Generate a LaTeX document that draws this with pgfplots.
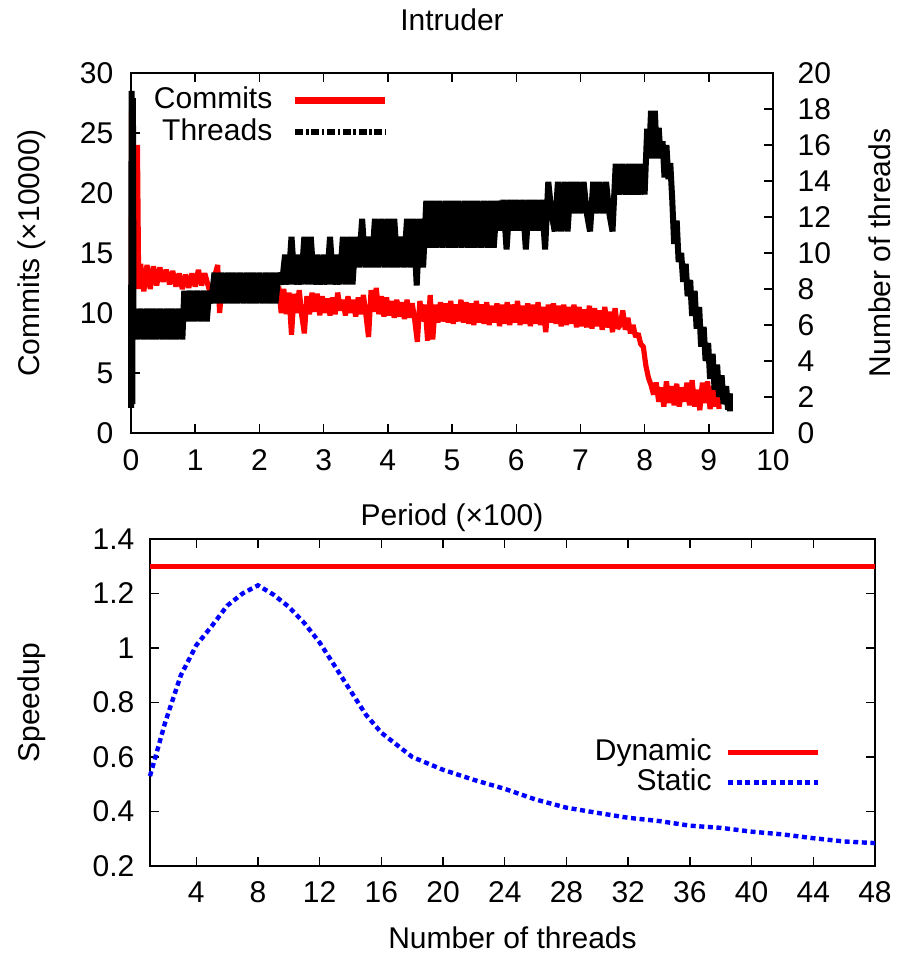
\documentclass[border=0pt]{standalone}
\usepackage{fontspec}
\setmainfont{Liberation Sans}
\usepackage{pgfplots}
\pgfplotsset{compat=1.18}
\begin{document}
\begin{tikzpicture}[font=\fontsize{15}{18}\selectfont]
\useasboundingbox (0,0) rectangle (449pt,477pt);
\pgfplotsset{
  every axis/.append style={
    scale only axis,
    axis line style={line width=0.7pt},
    every tick/.style={line width=0.7pt, black},
    major tick length=4.5pt,
    /pgf/number format/assume math mode=true,
    tick label style={font=\fontsize{15}{18}\selectfont},
    label style={font=\fontsize{15}{18}\selectfont},
    clip=false,
  },
}
% ---------------- top: commits (left axis)
\begin{axis}[
  at={(65.5pt,260.5pt)}, anchor=south west,
  width=321pt, height=180pt,
  xmin=0, xmax=10, ymin=0, ymax=30,
  xtick={0,1,...,10}, ytick={0,5,...,30},
  ytick pos=left,
  yticklabel style={xshift=-5.3pt},
  xticklabel style={yshift=-4.8pt},
  title={Intruder},
  title style={at={([yshift=15pt]axis description cs:0.5,1)}, anchor=base},
  xlabel={Period (×100)},
  every axis x label/.style={at={([yshift=-46.5pt]axis description cs:0.5,0)}, anchor=base},
  ylabel={Commits (×10000)},
  every axis y label/.style={at={([xshift=-45.5pt]axis description cs:0,0.5)}, rotate=90, anchor=base},
]
\addplot[red, line width=2.6pt, line join=bevel] coordinates {
(0,5.5)(0.01,28.3)(0.02,7)(0.03,27.5)(0.045,12)(0.06,24)(0.08,12.5)(0.1,24)(0.12,12)(0.15,14.1)
(0.2,11.8)(0.25,14)(0.3,12)(0.35,13.9)(0.4,12.3)(0.45,13.8)(0.5,12.6)(0.55,13.6)(0.6,12.4)(0.65,13.5)
(0.7,12.2)(0.75,13.3)(0.8,12)(0.85,13.2)(0.9,12.1)(0.95,13.3)(1,12.2)(1.05,13.6)(1.1,12.3)(1.15,13.3)(1.2,12.3)
(1.25,11.4)(1.3,13)(1.35,14)(1.38,10)(1.42,12.4)(1.45,11.2)(1.5,12.6)(1.55,11.3)(1.6,12.5)(1.65,11.2)
(1.7,12.4)(1.75,11.3)(1.8,12.6)(1.85,11.2)(1.9,12.4)(1.95,11.1)(2,12.5)(2.05,11.2)(2.1,12.3)(2.15,11)
(2.2,12.3)(2.25,11.1)(2.3,12.2)
(2.34,10)(2.38,12)(2.42,9.9)(2.46,11.7)(2.5,8.2)(2.54,11.6)(2.58,10)(2.62,11.9)(2.66,9.8)(2.7,8.3)
(2.74,11.4)(2.78,9.9)(2.82,11.7)(2.86,10.1)(2.9,11.6)(2.94,9.8)(2.98,11.4)(3.02,10)(3.06,11.2)(3.1,9.8)
(3.14,11.3)(3.18,9.9)(3.22,11.7)(3.26,10.2)(3.3,11.1)(3.34,9.8)(3.38,11.4)(3.42,10)(3.46,11.1)(3.5,9.7)
(3.54,11.3)(3.58,9.9)(3.62,11.5)(3.66,9.8)(3.7,8)(3.74,11.9)(3.78,10.1)(3.82,12.1)(3.86,9.9)(3.9,11.4)
(3.94,9.7)(3.98,11.3)(4.02,9.8)(4.06,11)(4.1,9.6)(4.14,11.1)(4.18,9.7)(4.22,10.9)(4.26,9.5)(4.3,11.1)
(4.34,9.6)(4.38,10.8)(4.42,9.4)(4.46,7.6)(4.5,11)(4.54,9.3)(4.58,10.7)(4.62,7.7)(4.66,11.5)(4.7,7.8)
(4.74,10.7)(4.78,9.2)(4.82,10.9)(4.86,9.3)(4.9,10.8)(4.94,9.2)(4.98,11)(5.02,9.1)(5.06,10.7)(5.1,9.3)(5.14,11.1)
(5.18,9.2)(5.22,10.9)(5.26,9.1)(5.3,10.8)(5.34,9)(5.38,11)(5.42,9.2)(5.46,10.7)(5.5,9.1)(5.54,10.9)
(5.58,9)(5.62,10.6)(5.66,9.2)(5.7,10.8)(5.74,8.9)(5.78,10.7)(5.82,9.1)(5.86,10.9)(5.9,9)(5.94,10.7)
(5.98,9.2)(6.02,11)(6.06,9)(6.1,10.6)(6.14,9.1)(6.18,10.8)(6.22,8.9)(6.26,10.7)(6.3,9.1)(6.34,10.9)
(6.38,9)(6.42,10.5)(6.46,8.4)(6.5,10.7)(6.54,9.2)(6.58,10.8)(6.62,9.1)(6.66,10.6)(6.7,8.9)(6.74,10.7)
(6.78,9)(6.82,10.5)(6.86,9.1)(6.9,10.7)(6.94,8.8)(6.98,10.5)(7.02,8.9)(7.06,10.3)(7.1,8.8)(7.14,10.6)
(7.18,8.7)(7.22,10.4)(7.26,8.9)(7.3,10.2)(7.34,8.6)(7.38,10.5)(7.42,8.8)(7.46,10.1)(7.5,8.4)(7.54,10.4)(7.58,8.7)
(7.62,9)(7.66,10.2)(7.7,8.6)(7.74,9.6)(7.78,8.3)(7.82,9)(7.86,8)(7.9,8.3)(7.94,7.4)(7.98,7.2)
(8.02,5.6)(8.06,4.6)(8.1,4)(8.14,3.2)(8.18,4.2)(8.22,2.6)(8.26,3.8)(8.3,2.2)(8.34,4.3)(8.38,2.5)
(8.42,3.9)(8.46,2.3)(8.5,4.1)(8.54,2.2)(8.58,3.8)(8.62,2.6)(8.66,4.2)(8.7,2.3)(8.74,4.4)(8.78,2.2)
(8.82,3.6)(8.86,1.9)(8.9,4.2)(8.94,2.5)(8.98,4.3)(9.02,2)(9.06,3.9)(9.1,2.2)(9.14,4.1)(9.16,2)
};
\end{axis}
% ---------------- top: threads (right axis)
\begin{axis}[
  at={(65.5pt,260.5pt)}, anchor=south west,
  width=321pt, height=180pt,
  xmin=0, xmax=10, ymin=0, ymax=20,
  xtick=\empty, ytick={0,2,...,20},
  ytick pos=right,
  yticklabel style={xshift=8.8pt},
  ylabel={Number of threads},
  every axis y label/.style={at={([xshift=58.5pt]axis description cs:1,0.5)}, rotate=90, anchor=base},
  legend style={at={(axis description cs:0.402,0.964)}, anchor=north east, draw=none, fill=none,
    inner sep=0pt, row sep=2pt, nodes={inner sep=0pt, text height=11pt, text depth=3pt},
    /tikz/every odd column/.append style={column sep=10pt}},
  legend plot pos=right, legend cell align=right,
  legend image code/.code={\draw[#1] (0pt,0pt) -- (45pt,0pt);},
]
\addlegendimage{red, line width=3.2pt}
\addlegendentry{Commits}
\addplot[black, line width=3pt, line join=bevel,
  legend image post style={dash pattern=on 4pt off 1.3pt on 1.3pt off 1.3pt}] coordinates {
(0,1.4)(0.01,19)(0.02,1.6)(0.03,18.6)(0.04,5.2)
(0.05,6.9)(0.1,5.2)(0.15,6.9)(0.2,5.2)(0.25,6.9)(0.3,5.2)(0.35,6.9)(0.4,5.2)(0.45,6.9)(0.5,5.2)
(0.55,6.9)(0.6,5.2)(0.65,6.9)(0.7,5.2)(0.75,6.9)(0.8,5.2)
(0.83,7.9)(0.88,6.2)(0.93,7.9)(0.98,6.2)(1.03,7.9)(1.08,6.2)(1.13,7.9)(1.18,6.2)(1.22,7.9)
(1.25,7.2)(1.3,8.9)(1.35,7.2)(1.4,8.9)(1.45,7.2)(1.5,8.9)(1.55,7.2)(1.6,8.9)(1.65,7.2)(1.7,8.9)
(1.75,7.2)(1.8,8.9)(1.85,7.2)(1.9,8.9)(1.95,7.2)(2,8.9)(2.05,7.2)(2.1,8.9)(2.15,7.2)(2.2,8.9)(2.25,7.2)(2.3,8.9)
(2.35,8.25)(2.4,9.9)(2.45,8.25)(2.5,10.9)(2.55,8.25)(2.6,9.9)(2.65,8.25)(2.7,10.9)(2.75,8.25)(2.8,10.9)
(2.85,8.25)(2.9,9.9)(2.95,8.25)(3,9.9)(3.05,8.25)(3.1,10.9)(3.15,8.25)(3.2,9.9)(3.25,8.25)(3.3,10.9)
(3.35,8.25)(3.4,10.9)(3.45,8.25)(3.5,10.9)(3.55,9.2)
(3.6,11.9)(3.65,9.2)(3.7,10.9)(3.75,9.2)(3.8,11.9)(3.85,9.2)(3.9,11.9)(3.95,9.2)(4,11.9)(4.05,9.2)
(4.1,11.9)(4.15,9.2)(4.2,10.9)(4.25,9.2)(4.3,11.9)(4.35,9.2)(4.4,11.9)(4.45,8.2)(4.5,11.9)(4.55,9.2)(4.6,12.9)
(4.65,10.3)(4.7,12.9)(4.75,10.3)(4.8,12.9)(4.85,10.3)(4.9,12.9)(4.95,10.3)(5,12.9)(5.05,10.3)(5.1,12.9)
(5.15,10.3)(5.2,12.9)(5.25,10.3)(5.3,12.9)(5.35,10.3)(5.4,12.9)(5.45,10.3)(5.5,12.9)(5.55,10.3)(5.6,12.9)
(5.65,10.3)(5.7,12.9)(5.75,11.25)
(5.8,12.95)(5.85,10.2)(5.9,12.95)(5.95,11.25)(6,12.95)(6.05,11.25)(6.1,12.95)(6.15,10.2)(6.2,12.95)
(6.25,11.25)(6.3,12.95)(6.35,11.25)(6.4,12.95)(6.45,10.2)(6.5,13.95)
(6.55,12.2)(6.6,11.2)(6.65,13.95)(6.7,11.2)(6.75,13.95)(6.8,11.2)(6.85,13.95)(6.9,12.2)(6.95,13.95)
(7,12.2)(7.05,13.95)(7.1,12.2)(7.15,11.2)(7.2,13.95)(7.25,12.2)(7.3,13.95)(7.35,12.2)(7.4,13.95)
(7.45,12.2)(7.5,11.2)(7.55,14.95)
(7.6,13.25)(7.65,14.95)(7.7,13.25)(7.75,14.95)(7.8,13.25)(7.85,14.95)(7.9,13.25)(7.95,14.95)(8,13.25)(8.04,16.9)
(8.07,15.25)(8.1,17.9)(8.13,15.25)(8.16,17.9)(8.19,15.25)(8.22,16.95)(8.25,15.25)(8.28,16.2)(8.31,14.2)
(8.34,16)(8.37,14.1)(8.4,15)
(8.43,13)(8.46,10.5)(8.5,11.8)(8.53,9.5)(8.57,10)(8.6,8.4)(8.64,9.4)(8.67,7.6)(8.71,8.5)(8.74,6.5)
(8.78,7.9)(8.81,5.8)(8.85,7)(8.88,4.8)(8.92,5.9)(8.95,4)(8.99,5)(9.02,3)(9.06,4.4)(9.09,2.4)
(9.13,3.8)(9.16,2)(9.2,3.2)(9.23,1.6)(9.27,2.6)(9.3,1.3)(9.33,2.2)(9.33,1.2)
};
\addlegendentry{Threads}
\end{axis}
% ---------------- bottom: speedup
\begin{axis}[
  at={(75pt,44pt)}, anchor=south west,
  width=362.5pt, height=163.5pt,
  xmin=1, xmax=48, ymin=0.2, ymax=1.4,
  xtick={4,8,...,48}, ytick={0.2,0.4,0.6,0.8,1,1.2,1.4},
  yticklabel style={xshift=-4.3pt},
  xticklabel style={yshift=-4.3pt},
  xlabel={Number of threads},
  every axis x label/.style={at={([yshift=-41pt]axis description cs:0.5,0)}, anchor=base},
  ylabel={Speedup},
  every axis y label/.style={at={([xshift=-55pt]axis description cs:0,0.5)}, rotate=90, anchor=base},
  legend style={at={(axis description cs:0.9255,0.391)}, anchor=north east, draw=none, fill=none,
    inner sep=0pt, row sep=1pt, nodes={inner sep=0pt, text height=11pt, text depth=3pt},
    /tikz/every odd column/.append style={column sep=7pt}},
  legend plot pos=right, legend cell align=right,
  legend image code/.code={\draw[#1] (0pt,0pt) -- (45pt,0pt);},
]
\addplot[red, line width=2.5pt] coordinates {(1,1.3) (48,1.3)};
\addlegendentry{Dynamic}
\addplot[blue, line width=2.2pt, dash pattern=on 2.5pt off 1.8pt] coordinates {
(1,0.53)(2,0.73)(3,0.90)(4,1.01)(5,1.08)(6,1.155)(7,1.20)(8,1.23)(9,1.196)(10,1.151)
(11,1.092)(12,1.02)(13,0.932)(14,0.843)(15,0.755)(16,0.689)(18,0.60)(20,0.553)(22,0.516)(24,0.483)
(26,0.444)(28,0.414)(30,0.395)(32,0.377)(34,0.365)(36,0.348)(38,0.340)(40,0.326)(42,0.316)(44,0.302)
(46,0.290)(48,0.284)
};
\addlegendentry{Static}
\end{axis}
\end{tikzpicture}
\end{document}
